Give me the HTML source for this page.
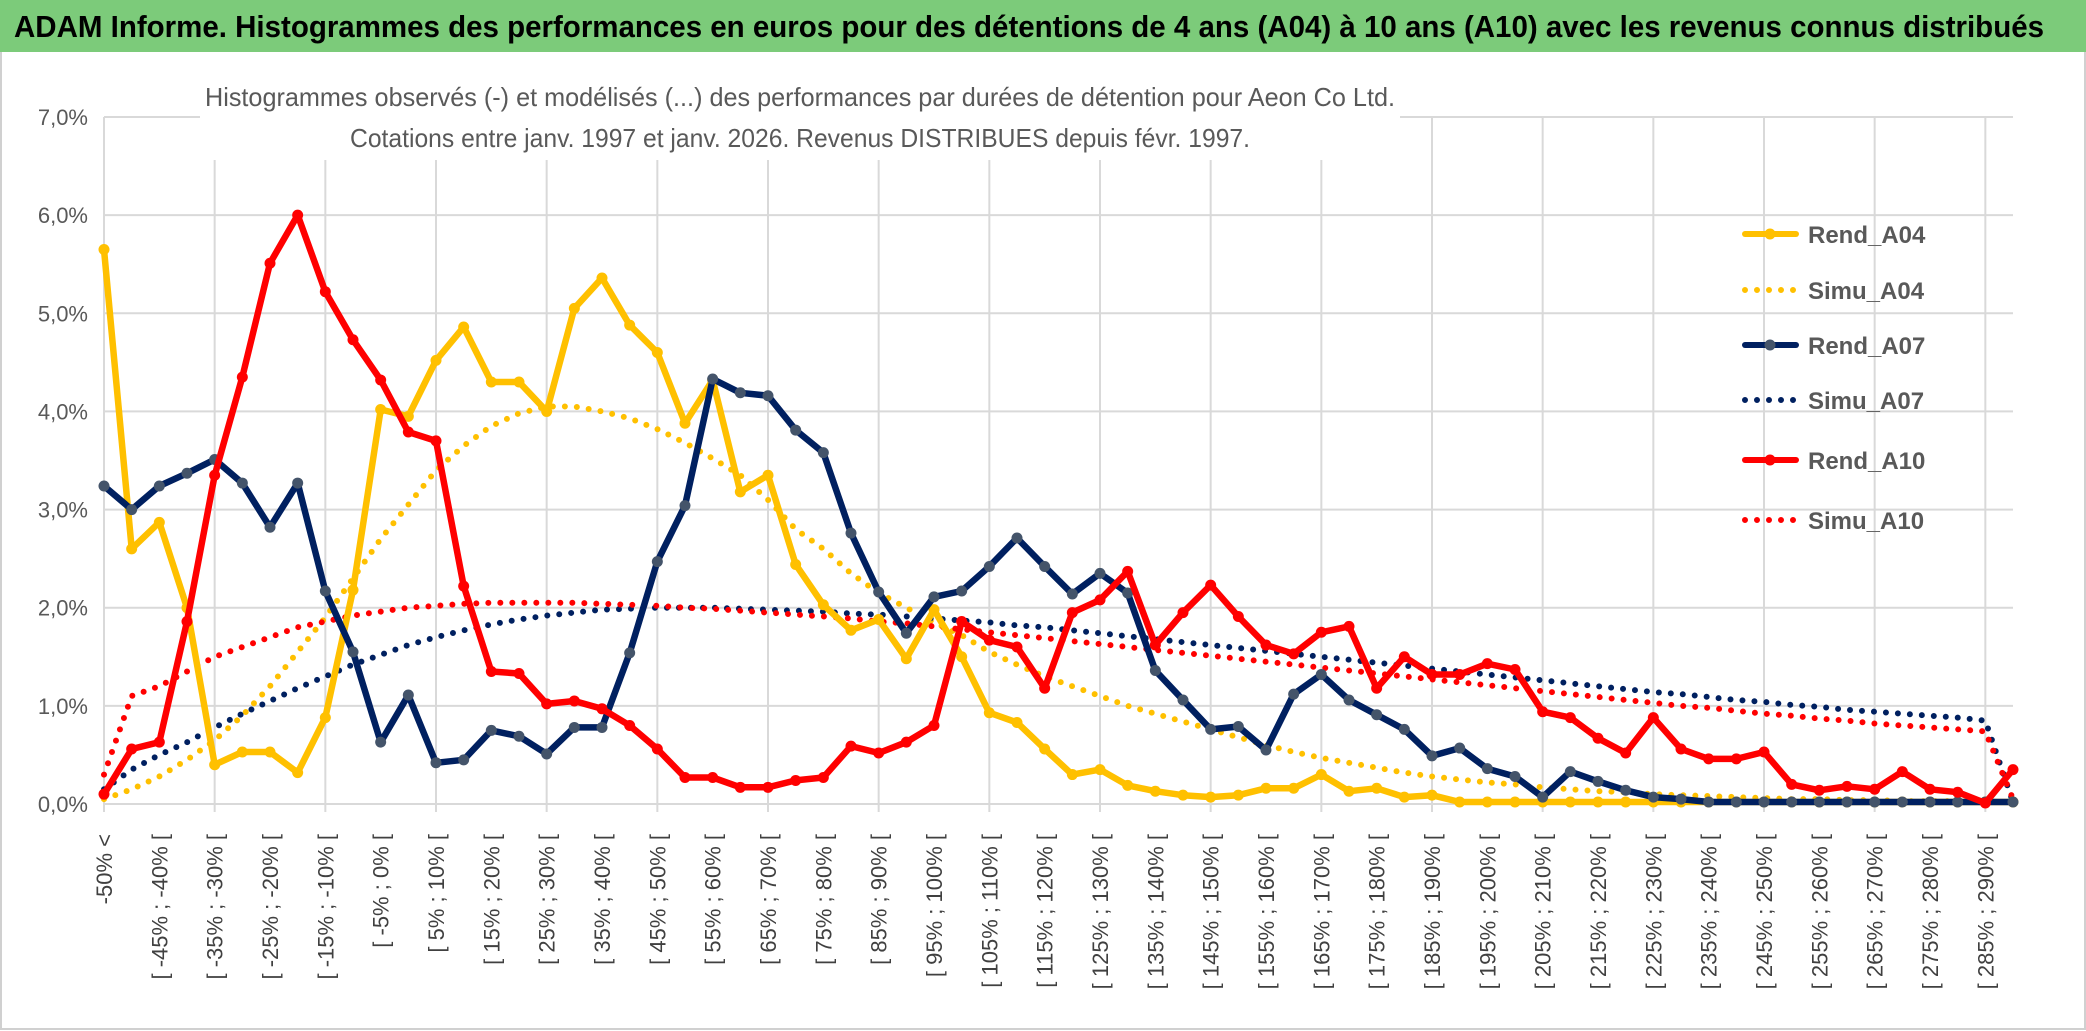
<!DOCTYPE html>
<html><head><meta charset="utf-8"><style>
html,body{margin:0;padding:0;background:#fff;}
svg{display:block;font-family:"Liberation Sans",sans-serif;}
</style></head><body>
<svg id="chart" width="2086" height="1031" viewBox="0 0 2086 1031" xmlns="http://www.w3.org/2000/svg">
<rect x="0" y="0" width="2086" height="1031" fill="#fff"/>
<rect x="1" y="1" width="2084" height="1028" fill="none" stroke="#d0d0d0" stroke-width="2"/>
<rect x="0" y="0" width="2086" height="52" fill="#7ccb7a"/>
<text x="14" y="37" font-size="31" font-weight="bold" fill="#000" textLength="2030" lengthAdjust="spacingAndGlyphs">ADAM Informe. Histogrammes des performances en euros pour des détentions de 4 ans (A04) à 10 ans (A10) avec les revenus connus distribués</text>
<g id="grid"></g>
<g id="yaxis"></g>
<g id="xaxis"></g>
<g id="series"></g>
<rect x="200" y="72" width="1200" height="88" fill="#fff"/>
<text x="800" y="106" font-size="26" fill="#595959" text-anchor="middle" textLength="1190" lengthAdjust="spacingAndGlyphs">Histogrammes observés (-) et modélisés (...) des performances par durées de détention pour Aeon Co Ltd.</text>
<text x="800" y="147" font-size="26" fill="#595959" text-anchor="middle" textLength="900" lengthAdjust="spacingAndGlyphs">Cotations entre janv. 1997 et janv. 2026. Revenus DISTRIBUES depuis févr. 1997.</text>
<g id="legend"></g>
</svg>
<script>
const categories = (function(){const c=["-50% <"];for(let a=-50;a<295;a+=5){c.push("[ "+a+"% ; "+(a+5)+"% [");}return c;})();
const yTicks = [0,1,2,3,4,5,6,7];
const yTickLabels = ["0,0%","1,0%","2,0%","3,0%","4,0%","5,0%","6,0%","7,0%"];
const rendA04 = [5.65,2.6,2.87,2.0,0.4,0.53,0.53,0.32,0.88,2.18,4.02,3.95,4.52,4.86,4.3,4.3,4.0,5.05,5.36,4.88,4.6,3.88,4.32,3.18,3.35,2.44,2.03,1.77,1.88,1.48,1.98,1.5,0.93,0.83,0.56,0.3,0.35,0.19,0.13,0.09,0.07,0.09,0.16,0.16,0.3,0.13,0.16,0.07,0.09,0.02,0.02,0.02,0.02,0.02,0.02,0.02,0.02,0.02,0.02,0.02,0.02,0.02,0.02,0.02,0.02,0.02,0.02,0.02,0.02,0.02];
const simuA04 = [0.05,0.15,0.28,0.45,0.65,0.9,1.2,1.55,1.9,2.3,2.7,3.05,3.4,3.65,3.85,3.98,4.05,4.05,4.0,3.93,3.82,3.68,3.52,3.35,3.1,2.8,2.6,2.35,2.15,2.0,1.85,1.72,1.55,1.42,1.3,1.2,1.1,1.0,0.92,0.84,0.76,0.68,0.6,0.53,0.47,0.42,0.37,0.32,0.28,0.25,0.22,0.2,0.17,0.15,0.13,0.12,0.1,0.09,0.08,0.07,0.06,0.05,0.05,0.04,0.04,0.03,0.03,0.03,0.02,0.02];
const rendA07 = [3.24,3.0,3.24,3.37,3.51,3.27,2.82,3.27,2.17,1.55,0.63,1.11,0.42,0.45,0.75,0.69,0.51,0.78,0.78,1.54,2.47,3.04,4.33,4.19,4.16,3.81,3.58,2.76,2.16,1.74,2.11,2.17,2.42,2.71,2.42,2.14,2.35,2.15,1.36,1.06,0.76,0.79,0.55,1.12,1.32,1.06,0.91,0.76,0.49,0.57,0.36,0.28,0.07,0.33,0.23,0.14,0.07,0.05,0.02,0.02,0.02,0.02,0.02,0.02,0.02,0.02,0.02,0.02,0.02,0.02];
const simuA07 = [0.15,0.35,0.5,0.63,0.78,0.92,1.05,1.18,1.3,1.42,1.52,1.62,1.7,1.77,1.83,1.88,1.92,1.95,1.98,1.99,2.0,2.0,2.0,1.99,1.98,1.97,1.96,1.94,1.93,1.91,1.89,1.87,1.85,1.82,1.8,1.77,1.74,1.71,1.68,1.65,1.62,1.59,1.56,1.53,1.5,1.47,1.44,1.41,1.38,1.35,1.32,1.29,1.26,1.23,1.2,1.17,1.14,1.12,1.09,1.06,1.04,1.01,0.99,0.96,0.94,0.92,0.9,0.88,0.85,0.02];
const rendA10 = [0.1,0.56,0.63,1.86,3.35,4.35,5.51,6.0,5.22,4.73,4.32,3.79,3.7,2.22,1.35,1.33,1.02,1.05,0.97,0.8,0.56,0.27,0.27,0.17,0.17,0.24,0.27,0.59,0.52,0.63,0.8,1.86,1.67,1.6,1.18,1.95,2.08,2.37,1.62,1.95,2.23,1.91,1.62,1.53,1.75,1.81,1.18,1.5,1.32,1.32,1.43,1.37,0.94,0.88,0.67,0.52,0.88,0.56,0.46,0.46,0.53,0.2,0.14,0.18,0.15,0.33,0.15,0.12,0.01,0.35];
const simuA10 = [0.3,1.1,1.2,1.35,1.5,1.6,1.7,1.8,1.86,1.92,1.96,2.0,2.02,2.04,2.05,2.05,2.05,2.05,2.04,2.03,2.02,2.0,1.99,1.97,1.95,1.93,1.91,1.89,1.86,1.84,1.81,1.78,1.75,1.72,1.69,1.66,1.63,1.6,1.57,1.54,1.51,1.48,1.45,1.42,1.39,1.36,1.33,1.3,1.27,1.24,1.21,1.18,1.15,1.12,1.09,1.06,1.03,1.0,0.98,0.95,0.92,0.9,0.87,0.85,0.82,0.8,0.78,0.76,0.74,0.05];
const seriesNames = ["Rend_A04","Simu_A04","Rend_A07","Simu_A07","Rend_A10","Simu_A10"];

const NS="http://www.w3.org/2000/svg";
const X0=104, X1=2013, Y0=804, Y7=117;
function xs(i){return X0+i*(X1-X0)/(categories.length-1);}
function ys(v){return Y0-v*(Y0-Y7)/7;}
function mk(tag,attrs,parent){const e=document.createElementNS(NS,tag);for(const k in attrs)e.setAttribute(k,attrs[k]);parent.appendChild(e);return e;}

const grid=document.getElementById('grid');
yTicks.forEach(function(t){
  const l=mk('line',{x1:X0,x2:X1,y1:ys(t),y2:ys(t),stroke:'#d9d9d9','stroke-width':2},grid);
  
  
});
for(let i=0;i<categories.length;i+=4){
  const l=mk('line',{x1:xs(i),x2:xs(i),y1:ys(7),y2:ys(0)+8,stroke:'#d9d9d9','stroke-width':2},grid);
  
  
}
const ya=document.getElementById('yaxis');
yTicks.forEach(function(t,i){
  const tx=mk('text',{x:88,y:ys(t)+8,'font-size':22,fill:'#595959','text-anchor':'end'},ya);
  tx.textContent=yTickLabels[i];
  
  
});
const xa=document.getElementById('xaxis');
for(let i=0;i<categories.length;i+=2){
  const x=xs(i)+8, y=834;
  const tx=mk('text',{x:x,y:y,'font-size':22,fill:'#404040','text-anchor':'end',transform:'rotate(-90 '+x+' '+y+')'},xa);
  tx.textContent=categories[i];
  
  
}
const sg=document.getElementById('series');
function drawLine(data,color,dotted,marker,name){
  const pts=data.map(function(v,i){return xs(i).toFixed(1)+','+ys(v).toFixed(1);}).join(' ');
  const attrs={points:pts,fill:'none',stroke:color,'stroke-width':dotted?6:6.5,'stroke-linejoin':'round','stroke-linecap':'round'};
  if(dotted){attrs['stroke-dasharray']='0 12';}
  const pl=mk('polyline',attrs,sg);
  
  
  if(marker){
    data.forEach(function(v,i){
      const c=mk('circle',{cx:xs(i),cy:ys(v),r:5.5,fill:marker},sg);
      
      
    });
  }
}
drawLine(simuA04,'#FFC000',true,null,'simu-a04-line');
drawLine(simuA07,'#002060',true,null,'simu-a07-line');
drawLine(simuA10,'#FF0000',true,null,'simu-a10-line');
drawLine(rendA04,'#FFC000',false,'#FFC000','rend-a04-line');
drawLine(rendA07,'#002060',false,'#44546A','rend-a07-line');
drawLine(rendA10,'#FF0000',false,'#FF0000','rend-a10-line');

const lg=document.getElementById('legend');
const legColors=['#FFC000','#FFC000','#002060','#002060','#FF0000','#FF0000'];
const legY=[234,290,345,400,460,520];
seriesNames.forEach(function(n,i){
  const dotted=(i%2===1);
  const a={x1:1745,x2:1796,y1:legY[i],y2:legY[i],stroke:legColors[i],'stroke-width':6,'stroke-linecap':'round'};
  if(dotted)a['stroke-dasharray']='0 12';
  const l=mk('line',a,lg);
  
  
  if(!dotted){
    const c=mk('circle',{cx:1770,cy:legY[i],r:5.5,fill:i===2?'#44546A':legColors[i]},lg);
    
    
  }
  const t=mk('text',{x:1808,y:legY[i]+9,'font-size':24,'font-weight':'bold',fill:'#595959'},lg);
  t.textContent=n;
  
  
});
</script>
</body></html>
